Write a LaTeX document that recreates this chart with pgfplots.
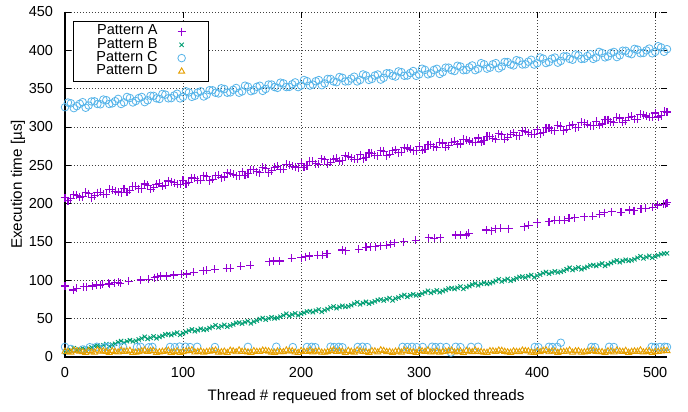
\documentclass[border=0pt]{standalone}
\usepackage{pgfplots}
\pgfplotsset{compat=1.18}
\usepackage{fontspec}
\setmainfont{Liberation Sans}
\definecolor{cA}{HTML}{9400D3}
\definecolor{cB}{HTML}{009E73}
\definecolor{cC}{HTML}{56B4E9}
\definecolor{cD}{HTML}{E69F00}
\begin{document}
\fontsize{14.5}{17}\selectfont
\begin{tikzpicture}
\useasboundingbox (-65pt,-55pt) rectangle (623pt,357pt);
\begin{axis}[
  at={(0,0)}, anchor=south west,
  scale only axis, width=602pt, height=345pt,
  xmin=0, xmax=510, ymin=0, ymax=450,
  xtick={0,100,...,500}, ytick={0,50,...,450},
  minor tick num=0,
  tick align=inside, major tick length=6pt,
  tick style={black, line width=0.9pt},
  grid=major,
  major grid style={black!75, line width=0.7pt, dash pattern=on 0.8pt off 2.2pt},
  axis line style={draw=none},
  clip=false,
  /pgf/number format/assume math mode=true,
  tick label style={font=\fontsize{14.5}{17}\selectfont},
  xticklabel style={yshift=-5pt},
  yticklabel style={xshift=-7pt},
  label style={font=\fontsize{15.2}{18}\selectfont},
  xlabel={Thread \# requeued from set of blocked threads},
  ylabel={Execution time [µs]},
  xlabel style={at={(axis description cs:0.5,-0.116)}, anchor=center},
  ylabel style={at={(axis description cs:-0.078,0.5)}, anchor=center},
  legend plot pos=right,
  legend cell align=right,
  legend image code/.code={\path[draw=none,fill=none] (-4pt,-4pt) (4pt,4pt); \draw[#1] plot coordinates {(0pt,0pt)};},
  legend style={at={(axis description cs:0.0133,0.974)}, anchor=north west,
    draw=black, line width=0.8pt, fill=white, inner xsep=23pt, inner ysep=3.5pt,
    column sep=20pt,
    nodes={inner sep=0pt, text height=10pt, text depth=3.3pt, font=\fontsize{14.5}{17}\selectfont}},
]
% Pattern A (upper band)
\addplot[only marks, mark=+, mark size=4pt, color=cA, mark options={line width=1.1pt}] coordinates {
(0,207.5)(5,206.2)(10,210.8)(15,208.9)(20,213.0)(25,210.6)(30,214.8)(35,212.1)(40,217.9)(45,215.2)(50,219.6)(55,217.4)(60,222.5)(65,219.3)(70,224.1)(75,221.0)(80,226.8)(85,223.7)(90,228.9)(95,225.4)(100,230.6)(105,228.1)(110,233.2)(115,230.4)(120,235.7)(125,232.0)(130,237.1)(135,234.8)(140,239.9)(145,236.3)(150,241.5)(155,239.0)(160,244.2)(165,240.6)(170,246.3)(175,243.1)(180,248.5)(185,245.0)(190,250.7)(195,247.8)(200,252.9)(205,249.5)(210,255.0)(215,251.6)(220,257.3)(225,254.2)(230,259.4)(235,256.0)(240,261.8)(245,258.1)(250,263.6)(255,260.3)(260,266.0)(265,262.5)(270,268.1)(275,264.7)(280,270.4)(285,267.0)(290,272.6)(295,269.0)(300,274.8)(305,271.2)(310,276.9)(315,273.4)(320,279.1)(325,275.6)(330,281.3)(335,277.8)(340,283.5)(345,279.9)(350,285.6)(355,282.1)(360,287.9)(365,284.2)(370,290.0)(375,286.5)(380,292.3)(385,288.6)(390,294.4)(395,290.8)(400,296.6)(405,293.0)(410,298.7)(415,295.1)(420,301.0)(425,297.3)(430,303.1)(435,299.5)(440,305.3)(445,301.7)(450,307.4)(455,303.9)(460,309.6)(465,306.0)(470,311.8)(475,308.2)(480,314.0)(485,310.3)(490,316.1)(495,312.6)(500,318.3)(505,314.8)(510,319.5)
(2.5,204.0)(7.5,211.6)(12.5,208.7)(17.5,214.8)(22.5,207.9)(27.5,214.5)(32.5,212.1)(37.5,218.7)(42.5,216.3)(47.5,214.4)(52.5,215.0)(57.5,222.5)(62.5,219.6)(67.5,225.7)(72.5,218.8)(77.5,225.4)(82.5,223.0)(87.5,229.6)(92.5,227.2)(97.5,225.3)(102.5,225.9)(107.5,233.5)(112.5,230.5)(117.5,236.6)(122.5,229.7)(127.5,236.3)(132.5,233.9)(137.5,240.5)(142.5,238.1)(147.5,236.2)(152.5,236.8)(157.5,244.4)(162.5,241.4)(167.5,247.5)(172.5,240.6)(177.5,247.2)(182.5,244.8)(187.5,251.4)(192.5,249.0)(197.5,247.1)(202.5,247.7)(207.5,255.3)(212.5,252.3)(217.5,258.4)(222.5,251.5)(227.5,258.1)(232.5,255.7)(237.5,262.3)(242.5,259.9)(247.5,258.0)(252.5,258.6)(257.5,266.1)(262.5,263.2)(267.5,269.3)(272.5,262.4)(277.5,269.0)(282.5,266.6)(287.5,273.2)(292.5,270.8)(297.5,268.9)(302.5,269.5)(307.5,277.0)(312.5,274.1)(317.5,280.2)(322.5,273.3)(327.5,279.9)(332.5,277.5)(337.5,284.1)(342.5,281.7)(347.5,279.8)(352.5,280.4)(357.5,287.9)(362.5,285.0)(367.5,291.1)(372.5,284.2)(377.5,290.8)(382.5,288.4)(387.5,295.0)(392.5,292.6)(397.5,290.7)(402.5,291.3)(407.5,298.8)(412.5,295.9)(417.5,302.0)(422.5,295.1)(427.5,301.7)(432.5,299.3)(437.5,305.9)(442.5,303.5)(447.5,301.6)(452.5,302.2)(457.5,309.7)(462.5,306.8)(467.5,312.9)(472.5,306.0)(477.5,312.6)(482.5,310.2)(487.5,316.8)(492.5,314.4)(497.5,312.5)(502.5,313.1)(507.5,320.6)
};
\addlegendentry{Pattern A}
% Pattern A (lower, sparse)
\addplot[only marks, mark=+, mark size=4pt, color=cA, mark options={line width=1.1pt}, forget plot] coordinates {
(0,92.6)(7,87.4)(10,89.5)(16,91.7)(18,91.7)(23,92.6)(27,93.9)(30,93.9)(32,94.8)(37,96.0)(38,94.8)(42,96.9)(45,97.3)(47,96.0)(54,99.0)(64,100.4)(71,101.3)(76,103.4)(78,104.7)(81,105.6)(86,105.6)(92,106.9)(99,107.8)(103,108.2)(109,110.4)(117,112.6)(120,113.4)(127,114.3)(137,116.0)(140,116.0)(149,118.2)(157,119.5)(173,124.3)(177,125.2)(182,125.2)(192,128.6)(200,129.5)(204,130.8)(207,131.7)(214,132.6)(218,132.6)(222,134.7)(235,139.5)(238,138.6)(249,140.4)(255,143.0)(259,143.8)(263,143.8)(267,145.1)(272,146.0)(276,146.9)(279,149.0)(287,150.3)(297,152.5)(308,155.5)(313,154.7)(318,155.5)(331,159.1)(335,159.1)(340,159.1)(342,161.2)(357,165.6)(361,164.7)(365,167.3)(369,167.7)(376,167.3)(389,169.9)(393,172.1)(400,175.1)(410,176.4)(415,178.6)(419,178.6)(423,178.6)(427,180.8)(432,181.6)(440,182.9)(447,183.8)(453,186.4)(457,188.2)(463,189.4)(471,189.0)(478,191.7)(482,190.8)(488,193.4)(492,193.8)(498,195.1)(502,198.2)(507,199.0)(509,199.4)(510,201.2)
};
% Pattern B
\addplot[only marks, mark=x, mark size=3pt, color=cB, mark options={line width=0.9pt}] coordinates {
(0,6.2)(5,9.0)(10,8.7)(15,11.6)(20,11.1)(25,14.2)(30,13.6)(35,16.8)(40,16.1)(45,19.3)(50,18.7)(55,21.9)(60,21.0)(65,24.3)(70,23.5)(75,26.9)(80,26.2)(85,29.4)(90,28.6)(95,31.8)(100,31.1)(105,34.4)(110,33.6)(115,36.9)(120,36.0)(125,39.3)(130,38.6)(135,41.9)(140,41.2)(145,44.4)(150,43.5)(155,46.8)(160,46.1)(165,49.4)(170,48.7)(175,51.8)(180,51.0)(185,54.4)(190,53.6)(195,56.9)(200,56.2)(205,59.3)(210,58.5)(215,61.9)(220,61.1)(225,64.4)(230,63.6)(235,66.8)(240,66.0)(245,69.4)(250,68.7)(255,71.9)(260,71.1)(265,74.3)(270,73.6)(275,76.9)(280,76.2)(285,79.4)(290,78.5)(295,81.8)(300,81.1)(305,84.4)(310,83.6)(315,86.9)(320,86.0)(325,89.3)(330,88.7)(335,91.9)(340,91.1)(345,94.4)(350,93.5)(355,96.8)(360,96.2)(365,99.4)(370,98.6)(375,101.9)(380,101.0)(385,104.3)(390,103.7)(395,106.9)(400,106.1)(405,109.4)(410,108.6)(415,111.8)(420,111.2)(425,114.4)(430,113.5)(435,116.9)(440,116.1)(445,119.3)(450,118.7)(455,121.9)(460,121.0)(465,124.4)(470,123.6)(475,126.8)(480,126.2)(485,129.4)(490,128.6)(495,131.9)(500,131.1)(505,134.3)(510,135.2)
(2.5,7.9)(12.5,9.8)(22.5,12.6)(32.5,15.4)(42.5,17.2)(52.5,20.5)(62.5,22.9)(72.5,25.1)(82.5,27.4)(92.5,30.4)(102.5,32.6)(112.5,35.0)(122.5,37.8)(132.5,40.1)(142.5,42.5)(152.5,45.4)(162.5,47.6)(172.5,50.4)(182.5,52.5)(192.5,55.3)(202.5,57.6)(212.5,60.4)(222.5,62.5)(232.5,65.3)(242.5,67.5)(252.5,70.4)(262.5,72.6)(272.5,75.5)(282.5,77.5)(292.5,80.4)(302.5,82.6)(312.5,85.4)(322.5,87.6)(332.5,90.2)(342.5,92.5)(352.5,95.4)(362.5,97.6)(372.5,100.3)(382.5,102.6)(392.5,105.4)(402.5,107.5)(412.5,110.4)(422.5,112.6)(432.5,115.3)(442.5,117.5)(452.5,120.4)(462.5,122.6)(472.5,125.4)(482.5,127.5)(492.5,130.3)(502.5,132.6)
(7.5,11.4)(17.5,9.4)(27.5,14.9)(37.5,13.9)(47.5,20.9)(57.5,20.4)(67.5,26.4)(77.5,24.4)(87.5,29.9)(97.5,28.9)(107.5,35.9)(117.5,35.4)(127.5,41.4)(137.5,39.4)(147.5,44.9)(157.5,43.9)(167.5,50.9)(177.5,50.4)(187.5,56.4)(197.5,54.4)(207.5,59.9)(217.5,58.9)(227.5,65.9)(237.5,65.4)(247.5,71.4)(257.5,69.4)(267.5,74.9)(277.5,73.9)(287.5,80.9)(297.5,80.4)(307.5,86.4)(317.5,84.4)(327.5,89.9)(337.5,88.9)(347.5,95.9)(357.5,95.4)(367.5,101.4)(377.5,99.4)(387.5,104.9)(397.5,103.9)(407.5,110.9)(417.5,110.4)(427.5,116.4)(437.5,114.4)(447.5,119.9)(457.5,118.9)(467.5,125.9)(477.5,125.4)(487.5,131.4)(497.5,129.4)(507.5,134.9)
};
\addlegendentry{Pattern B}
% Pattern C (upper band)
\addplot[only marks, mark=o, mark size=3.8pt, color=cC, mark options={line width=0.8pt}] coordinates {
(0,325.8)(5,330.9)(10,327.2)(15,332.4)(20,328.0)(25,333.5)(30,329.6)(35,335.0)(40,330.8)(45,336.7)(50,332.1)(55,337.8)(60,333.9)(65,339.2)(70,334.8)(75,340.6)(80,336.5)(85,342.3)(90,337.6)(95,343.4)(100,339.3)(105,345.0)(110,340.7)(115,346.5)(120,342.0)(125,347.9)(130,343.8)(135,349.6)(140,345.1)(145,350.9)(150,346.4)(155,352.5)(160,348.0)(165,353.8)(170,349.6)(175,355.4)(180,351.0)(185,356.9)(190,352.3)(195,358.2)(200,354.0)(205,359.8)(210,355.3)(215,361.2)(220,356.8)(225,362.7)(230,358.4)(235,364.2)(240,359.7)(245,365.6)(250,361.3)(255,367.1)(260,362.7)(265,368.5)(270,364.1)(275,370.0)(280,365.8)(285,371.6)(290,367.1)(295,373.0)(300,368.6)(305,374.5)(310,370.0)(315,375.9)(320,371.5)(325,377.4)(330,373.0)(335,378.9)(340,374.4)(345,380.3)(350,375.9)(355,381.8)(360,377.4)(365,383.3)(370,378.8)(375,384.7)(380,380.3)(385,386.2)(390,381.8)(395,387.7)(400,383.2)(405,389.2)(410,384.7)(415,390.6)(420,386.1)(425,392.1)(430,387.7)(435,393.5)(440,389.1)(445,395.0)(450,390.6)(455,396.5)(460,392.0)(465,397.9)(470,393.5)(475,399.4)(480,395.0)(485,400.9)(490,396.5)(495,402.3)(500,398.0)(505,403.8)(510,401.5)
(2.5,331.9)(7.5,324.6)(12.5,330.3)(17.5,325.1)(22.5,333.3)(27.5,330.0)(32.5,335.8)(37.5,330.0)(42.5,333.7)(47.5,330.0)(52.5,339.2)(57.5,332.0)(62.5,337.7)(67.5,332.4)(72.5,340.7)(77.5,337.4)(82.5,343.1)(87.5,337.4)(92.5,341.1)(97.5,337.3)(102.5,346.6)(107.5,339.3)(112.5,345.0)(117.5,339.8)(122.5,348.0)(127.5,344.7)(132.5,350.5)(137.5,344.7)(142.5,348.5)(147.5,344.7)(152.5,353.9)(157.5,346.7)(162.5,352.4)(167.5,347.1)(172.5,355.4)(177.5,352.1)(182.5,357.8)(187.5,352.1)(192.5,355.8)(197.5,352.0)(202.5,361.3)(207.5,354.0)(212.5,359.7)(217.5,354.5)(222.5,362.7)(227.5,359.4)(232.5,365.2)(237.5,359.4)(242.5,363.2)(247.5,359.4)(252.5,368.6)(257.5,361.4)(262.5,367.1)(267.5,361.8)(272.5,370.1)(277.5,366.8)(282.5,372.5)(287.5,366.8)(292.5,370.5)(297.5,366.7)(302.5,376.0)(307.5,368.7)(312.5,374.4)(317.5,369.2)(322.5,377.4)(327.5,374.1)(332.5,379.9)(337.5,374.1)(342.5,377.9)(347.5,374.1)(352.5,383.3)(357.5,376.1)(362.5,381.8)(367.5,376.5)(372.5,384.8)(377.5,381.5)(382.5,387.2)(387.5,381.5)(392.5,385.2)(397.5,381.4)(402.5,390.7)(407.5,383.4)(412.5,389.1)(417.5,383.9)(422.5,392.1)(427.5,388.8)(432.5,394.6)(437.5,388.8)(442.5,392.6)(447.5,388.8)(452.5,398.0)(457.5,390.8)(462.5,396.5)(467.5,391.2)(472.5,399.5)(477.5,396.2)(482.5,401.9)(487.5,396.2)(492.5,399.9)(497.5,396.1)(502.5,405.4)(507.5,398.1)
};
\addlegendentry{Pattern C}
% Pattern C (low outliers)
\addplot[only marks, mark=o, mark size=3.8pt, color=cC, mark options={line width=0.8pt}, forget plot] coordinates {
(0,13.2)(5,10.5)(15,9.8)(21,12.8)(27,13.4)(34,12.9)(37,13.3)(45,12.6)(49,13.5)(61,13.0)(64,13.4)(71,12.7)(74,13.2)(89,13.1)(93,12.8)(97,13.6)(102,13.4)(106,12.9)(112,13.3)(127,13.0)(155,13.2)(179,13.4)(193,12.9)(205,13.1)(209,13.3)(212,12.8)(225,13.4)(228,13.0)(232,13.2)(235,12.7)(248,13.1)(252,13.4)(256,12.9)(286,13.2)(290,13.0)(294,13.3)(298,12.8)(303,13.1)(311,13.4)(314,12.9)(318,13.2)(323,13.0)(327,5.8)(331,13.3)(335,12.9)(344,13.2)(350,13.4)(398,13.1)(401,12.9)(410,13.3)(413,13.0)(417,13.2)(420,18.6)(446,13.1)(449,12.9)(461,13.3)(465,13.0)(497,13.2)(500,12.9)(504,13.1)(508,13.3)(510,13.0)
};
% Pattern D
\addplot[only marks, mark=triangle, mark size=3.5pt, color=cD, mark options={line width=0.9pt}] coordinates {
(0,7.2)(5,6.1)(10,7.8)(15,6.6)(20,8.1)(25,5.9)(30,7.4)(35,6.8)(40,7.9)(45,6.3)(50,7.1)(55,8.3)(60,6.0)(65,7.6)(70,6.9)(75,8.0)(80,6.4)(85,7.3)(90,5.8)(95,7.7)(100,6.7)(105,8.2)(110,6.2)(115,7.5)(120,6.8)(125,7.9)(130,6.1)(135,7.2)(140,8.4)(145,6.5)(150,7.0)(155,6.3)(160,7.8)(165,6.9)(170,8.1)(175,6.0)(180,7.4)(185,6.6)(190,7.7)(195,6.2)(200,8.0)(205,7.1)(210,6.4)(215,7.6)(220,5.9)(225,7.9)(230,6.8)(235,7.3)(240,8.2)(245,6.1)(250,7.5)(255,6.7)(260,7.8)(265,6.3)(270,8.1)(275,6.9)(280,7.2)(285,6.0)(290,7.7)(295,6.5)(300,8.3)(305,7.0)(310,6.4)(315,7.6)(320,6.8)(325,7.9)(330,6.2)(335,7.4)(340,8.0)(345,6.6)(350,7.1)(355,6.0)(360,7.8)(365,6.9)(370,8.2)(375,6.3)(380,7.5)(385,6.7)(390,7.9)(395,6.1)(400,7.3)(405,8.1)(410,6.5)(415,7.6)(420,6.8)(425,7.2)(430,5.9)(435,7.8)(440,6.4)(445,8.0)(450,7.0)(455,6.6)(460,7.7)(465,6.2)(470,7.4)(475,8.2)(480,6.9)(485,7.1)(490,6.3)(495,7.9)(500,6.7)(505,7.5)(510,8.0)
(2.5,6.8)(12.5,7.3)(22.5,6.5)(32.5,7.7)(42.5,6.9)(52.5,7.4)(62.5,6.6)(72.5,7.8)(82.5,7.0)(92.5,6.7)(102.5,7.5)(112.5,6.9)(122.5,7.2)(132.5,6.4)(142.5,7.6)(152.5,7.0)(162.5,6.8)(172.5,7.4)(182.5,6.5)(192.5,7.7)(202.5,6.9)(212.5,7.3)(222.5,6.6)(232.5,7.8)(242.5,7.0)(252.5,6.8)(262.5,7.5)(272.5,6.7)(282.5,7.3)(292.5,6.9)(302.5,7.6)(312.5,6.5)(322.5,7.2)(332.5,6.8)(342.5,7.4)(352.5,6.6)(362.5,7.7)(372.5,7.0)(382.5,6.8)(392.5,7.5)(402.5,6.6)(412.5,7.3)(422.5,6.9)(432.5,7.6)(442.5,7.0)(452.5,6.7)(462.5,7.4)(472.5,6.8)(482.5,7.5)(492.5,7.0)(502.5,6.9)
(7.5,8.6)(17.5,5.6)(27.5,8.8)(37.5,5.5)(47.5,8.5)(57.5,5.8)(67.5,8.7)(77.5,5.7)(87.5,8.4)(97.5,5.6)(107.5,8.9)(117.5,5.9)(127.5,8.6)(137.5,5.5)(147.5,8.8)(157.5,5.7)(167.5,8.5)(177.5,5.8)(187.5,8.7)(197.5,5.6)(207.5,8.4)(217.5,5.9)(227.5,8.8)(237.5,5.5)(247.5,8.6)(257.5,5.7)(267.5,8.9)(277.5,5.8)(287.5,8.5)(297.5,5.6)(307.5,8.7)(317.5,5.9)(327.5,8.4)(337.5,5.5)(347.5,8.8)(357.5,5.7)(367.5,8.6)(377.5,5.8)(387.5,8.5)(397.5,5.6)(407.5,8.9)(417.5,5.7)(427.5,8.7)(437.5,5.9)(447.5,8.4)(457.5,5.5)(467.5,8.6)(477.5,5.8)(487.5,8.8)(497.5,5.6)(507.5,8.5)
};
\addlegendentry{Pattern D}
\draw[black, line width=1.8pt] (rel axis cs:0,1) -- (rel axis cs:0,0) -- (rel axis cs:1,0);
\end{axis}
\end{tikzpicture}
\end{document}
